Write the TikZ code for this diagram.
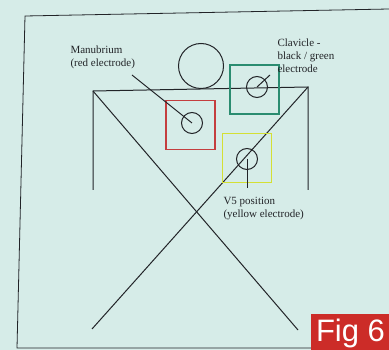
\documentclass[tikz,border=0pt]{standalone}
\usepackage{fontspec}
\setmainfont{Liberation Serif}
\newfontfamily\figfont{Liberation Sans}
\usetikzlibrary{positioning,calc}
\definecolor{slidebg}{RGB}{214,236,232}
\definecolor{inkgrey}{RGB}{34,36,40}
\definecolor{padred}{RGB}{196,62,62}
\definecolor{padgreen}{RGB}{42,140,112}
\definecolor{padyellow}{RGB}{212,224,52}
\definecolor{figred}{RGB}{204,44,40}
\begin{document}
\begin{tikzpicture}[x=1pt, y=-1pt, line width=1pt,
            every node/.style={inner sep=0pt},
            electrode/.style={draw=inkgrey, circle, minimum size=21pt},
            padbox/.style={draw, line width=1.3pt, minimum size=49pt},
            note/.style={align=left, anchor=north west, text=inkgrey,
                         font=\fontsize{11}{13}\selectfont}]
        \fill[slidebg] (0,0) rectangle (389,350);
        \useasboundingbox (0,0) rectangle (389,350);
        % slide frame
        \draw[inkgrey, line width=0.8pt] (389,9) -- (25,16) -- (17,348) -- (389,348);

        % body
        \node[draw=inkgrey, circle, minimum size=45pt] (head) at (201,66) {};
        \coordinate (lsh) at (93,91);
        \coordinate (rsh) at (308,87);
        \coordinate (lhip) at (93,190);
        \coordinate (rhip) at (308,190);
        \coordinate (lfoot) at (92,329);
        \coordinate (rfoot) at (298,330);
        \draw[inkgrey] (lhip) -- (lsh) -- (rsh) -- (rhip);
        \draw[inkgrey] (lsh) -- (rfoot);
        \draw[inkgrey] (rsh) -- (lfoot);

        % electrode pads
        \node[padbox, draw=padred] (manbox) at (190.5,125) {};
        \node[electrode] (manub) at (192,123) {};
        \node[padbox, draw=padgreen] (clavbox) at (254.5,89.5) {};
        \node[electrode] (clav) at (257,87) {};
        \node[padbox, draw=padyellow] (vbox) at (247,158) {};
        \node[electrode] (vfive) at (247,159) {};

        % labels
        \node[note] (manlbl) at (70,45) {Manubrium\\(red electrode)};
        \node[note] (clavlbl) at (277,38) {Clavicle -\\black / green\\electrode};
        \node[note] (vlbl) at (223,197) {V5 position\\(yellow electrode)};
        \coordinate (manend) at (132,75);
        \coordinate (clavend) at (270,75);
        \coordinate (vend) at (247,188);
        \draw[inkgrey] (manend) -- (manub.center);
        \draw[inkgrey] (clav.center) -- (clavend);
        \draw[inkgrey] (vfive.center) -- (vend);

        \node[fill=figred, text=white, anchor=north west, minimum width=80pt,
              minimum height=37pt, font=\figfont\fontsize{31}{31}\selectfont] (fig) at (310,314) {Fig 6};
\end{tikzpicture}
\end{document}
